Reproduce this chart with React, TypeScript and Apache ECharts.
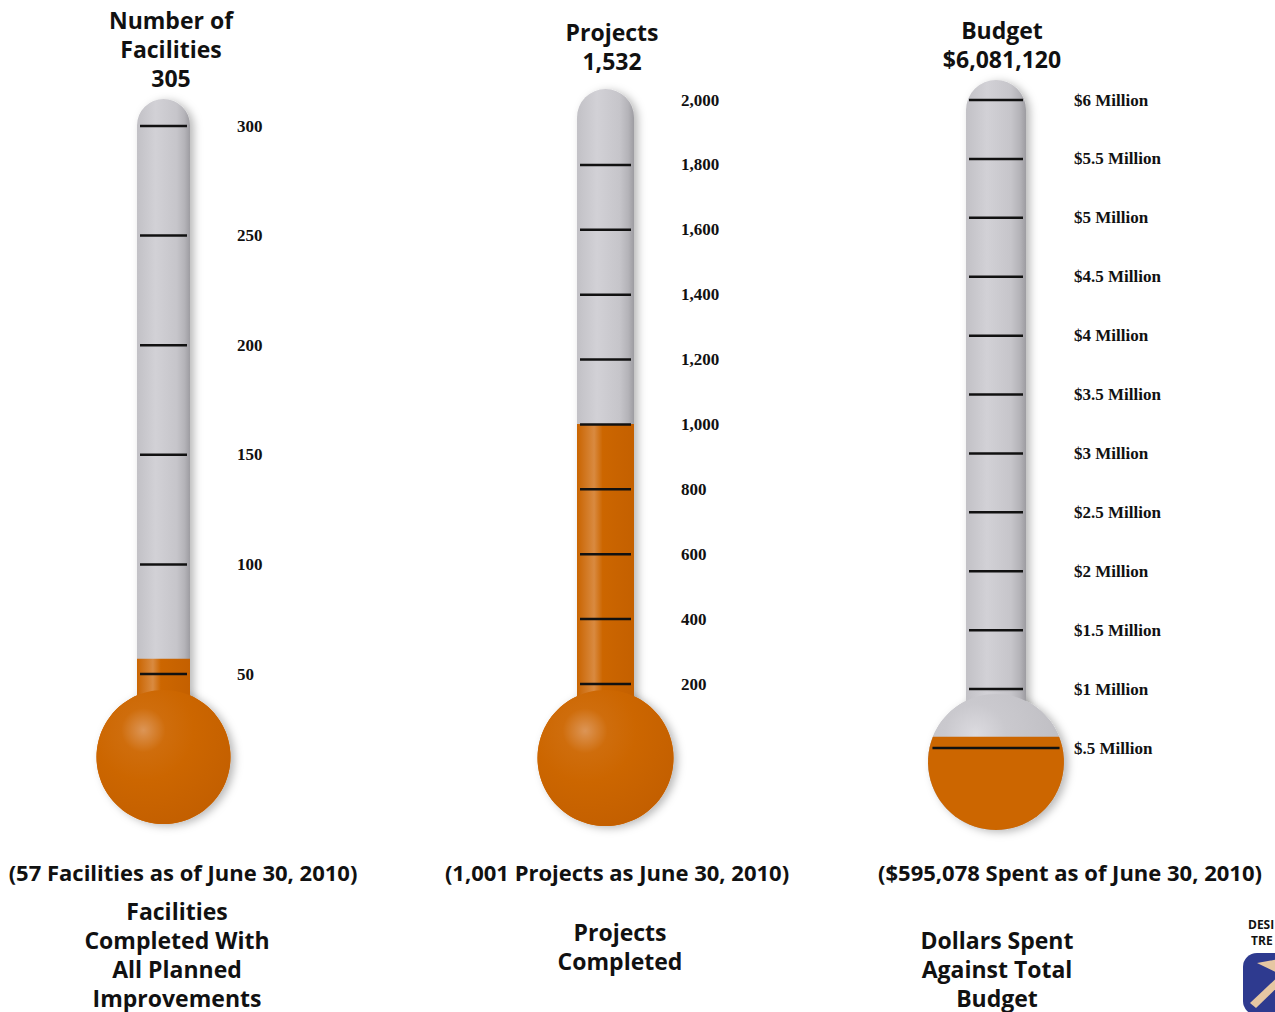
import React, { useEffect, useRef } from 'react';
import * as echarts from 'echarts';

// ---------- data ----------
const facilitiesTicks = [50, 100, 150, 200, 250, 300];
const facilitiesTotal = 305;
const facilitiesCompleted = 57;

const projectLineTicks = [200, 400, 600, 800, 1000, 1200, 1400, 1600, 1800];
const projectsTotal = 1532;
const projectsCompleted = 1001;

const budgetTicks = [0.5, 1, 1.5, 2, 2.5, 3, 3.5, 4, 4.5, 5, 5.5, 6]; // $ millions
const budgetTotal = 6081120; // dollars
const budgetSpent = 595078; // dollars

const fmt = (n: number) => n.toLocaleString('en-US');

// ---------- layout ----------
const thermos = [
  { left: 137, width: 53, top: 126, bottom: 674, tubeTop: 99, cy: 757, r: 67, min: 50, max: 300, interval: 50, lines: facilitiesTicks, value: facilitiesCompleted, labelMargin: 47 },
  { left: 577, width: 57, top: 100, bottom: 684, tubeTop: 89, cy: 758, r: 68, min: 200, max: 2000, interval: 200, lines: projectLineTicks, value: projectsCompleted, labelMargin: 47 },
  { left: 966, width: 60, top: 100, bottom: 748, tubeTop: 80, cy: 762, r: 68, min: 0.5, max: 6, interval: 0.5, lines: budgetTicks, value: budgetSpent / 1e6, labelMargin: 48 },
];

const ORANGE = '#cc6600';
const titleFont = '"Open Sans", Lato, sans-serif';

export default function App() {
  const ref = useRef<HTMLDivElement>(null);
  useEffect(() => {
    if (!ref.current) return;
    const chart = echarts.init(ref.current, undefined, { renderer: 'svg' });

    const grayTube = () =>
      new echarts.graphic.LinearGradient(0, 0, 1, 0, [
        { offset: 0, color: '#c2c1c6' },
        { offset: 0.35, color: '#d2d1d6' },
        { offset: 0.75, color: '#c6c5ca' },
        { offset: 0.9, color: '#b4b3b8' },
        { offset: 1, color: '#9d9ca1' },
      ]);
    const orangeTube = () =>
      new echarts.graphic.LinearGradient(0, 0, 1, 0, [
        { offset: 0, color: '#c96400' },
        { offset: 0.3, color: '#d98a40' },
        { offset: 0.45, color: '#cc6600' },
        { offset: 1, color: '#c46000' },
      ]);
    const orangeBulb = () =>
      new echarts.graphic.RadialGradient(0.35, 0.3, 0.75, [
        { offset: 0, color: '#dc9556' },
        { offset: 0.22, color: '#cf6d0c' },
        { offset: 0.5, color: '#cc6600' },
        { offset: 1, color: '#c35f00' },
      ]);
    const grayBulb = () =>
      new echarts.graphic.RadialGradient(0.35, 0.3, 0.75, [
        { offset: 0, color: '#dcdbe0' },
        { offset: 0.3, color: '#cac9ce' },
        { offset: 1, color: '#bdbcc1' },
      ]);

    const renderItem = (params: any, api: any) => {
      const t = thermos[params.seriesIndex];
      const v = api.value(1);
      const [xl, fy] = api.coord([0, v]);
      const [xr] = api.coord([1, v]);
      const w = xr - xl;
      const cx = (xl + xr) / 2;
      const children: any[] = [];
      const shadow = { shadowBlur: 8, shadowOffsetX: 4, shadowOffsetY: 2, shadowColor: 'rgba(0,0,0,0.28)' };
      children.push({
        type: 'rect',
        shape: { x: xl, y: t.tubeTop, width: w, height: t.cy - t.tubeTop, r: [w / 2, w / 2, 0, 0] },
        style: { fill: grayTube(), ...shadow },
      });
      const bulbTop = t.cy - t.r;
      if (fy < bulbTop) {
        children.push({ type: 'circle', shape: { cx, cy: t.cy, r: t.r }, style: { fill: ORANGE, ...shadow } });
        children.push({ type: 'rect', shape: { x: xl, y: fy, width: w, height: bulbTop + 12 - fy }, style: { fill: orangeTube() } });
        children.push({ type: 'circle', shape: { cx, cy: t.cy, r: t.r }, style: { fill: orangeBulb() } });
      } else {
        children.push({ type: 'circle', shape: { cx, cy: t.cy, r: t.r }, style: { fill: '#c6c5ca', ...shadow } });
        children.push({ type: 'rect', shape: { x: xl, y: bulbTop - 2, width: w, height: 20 }, style: { fill: grayTube() } });
        children.push({ type: 'circle', shape: { cx, cy: t.cy, r: t.r }, style: { fill: grayBulb() } });
        const dy = Math.max(-t.r, Math.min(t.r, fy - t.cy));
        const a0 = Math.asin(dy / t.r);
        const pts: number[][] = [];
        const n = 48;
        for (let i = 0; i <= n; i++) {
          const a = a0 + ((Math.PI - 2 * a0) * i) / n;
          pts.push([cx + t.r * Math.cos(a), t.cy + t.r * Math.sin(a)]);
        }
        children.push({ type: 'polygon', shape: { points: pts }, style: { fill: ORANGE } });
      }
      t.lines.forEach((tv: number) => {
        const y = api.coord([0, tv])[1];
        let half = w / 2;
        if (y > bulbTop + 4) {
          const ch = Math.sqrt(Math.max(0, t.r * t.r - (y - t.cy) * (y - t.cy)));
          if (ch > half) half = ch;
        }
        children.push({
          type: 'line',
          shape: { x1: cx - half + 3, y1: y, x2: cx + half - 3, y2: y },
          style: { stroke: '#111', lineWidth: 2.5 },
        });
      });
      return { type: 'group', children };
    };

    const grids = thermos.map((t) => ({ left: t.left, width: t.width, top: t.top, height: t.bottom - t.top }));
    const xAxes = thermos.map((_, i) => ({ type: 'value', gridIndex: i, min: 0, max: 1, show: false }));
    const labelFmt = [
      (v: number) => String(v),
      (v: number) => fmt(v),
      (v: number) => (v === 0.5 ? '$.5 Million' : '$' + v + ' Million'),
    ];
    const yAxes = thermos.map((t, i) => ({
      type: 'value',
      gridIndex: i,
      position: 'right',
      min: t.min,
      max: t.max,
      interval: t.interval,
      axisLine: { show: false },
      axisTick: { show: false },
      splitLine: { show: false },
      axisLabel: {
        margin: t.labelMargin,
        showMinLabel: true,
        showMaxLabel: true,
        fontFamily: '"Liberation Serif", "Times New Roman", serif',
        fontWeight: 'bold',
        fontSize: 17,
        color: '#111',
        formatter: labelFmt[i],
      },
    }));
    const series = thermos.map((t, i) => ({
      type: 'custom',
      xAxisIndex: i,
      yAxisIndex: i,
      clip: false,
      renderItem,
      data: [[0.5, t.value]],
      z: 2,
    }));

    const txt = (x: number, y: number, text: string, size = 22, lh = 29) => ({
      type: 'text',
      x,
      y,
      style: {
        text,
        fill: '#111',
        font: `bold ${size}px ${titleFont}`,
        textAlign: 'center',
        textVerticalAlign: 'top',
        lineHeight: lh,
      },
    });

    chart.setOption({
      animation: false,
      backgroundColor: '#ffffff',
      grid: grids,
      xAxis: xAxes,
      yAxis: yAxes,
      series,
      graphic: [
        txt(171, 5, 'Number of\nFacilities\n' + facilitiesTotal, 23, 29),
        txt(612, 17, 'Projects\n' + fmt(projectsTotal), 23, 29),
        txt(1002, 15, 'Budget\n$' + fmt(budgetTotal), 23, 29),
        txt(183, 857, '(' + facilitiesCompleted + ' Facilities as of June 30, 2010)', 22),
        txt(617, 857, '(' + fmt(projectsCompleted) + ' Projects as June 30, 2010)', 22),
        txt(1070, 857, '($' + fmt(budgetSpent) + ' Spent as of June 30, 2010)', 22),
        txt(177, 896, 'Facilities\nCompleted With\nAll Planned\nImprovements', 23, 29),
        txt(620, 917, 'Projects\nCompleted', 23, 29),
        txt(997, 925, 'Dollars Spent\nAgainst Total\nBudget', 23, 29),
        {
          type: 'text',
          x: 1248,
          y: 916,
          style: { text: 'DESI\n TRE', fill: '#111', font: `bold 12px ${titleFont}`, lineHeight: 16, textVerticalAlign: 'top' },
        },
        { type: 'rect', shape: { x: 1243, y: 953, width: 60, height: 62, r: 14 }, style: { fill: '#2e3a8f' } },
        {
          type: 'polygon',
          shape: { points: [[1250, 1003], [1256, 1008], [1290, 975], [1285, 970]] },
          style: { fill: '#e6c7a3' },
        },
        {
          type: 'polygon',
          shape: { points: [[1257, 963], [1285, 958], [1282, 975]] },
          style: { fill: '#e6c7a3' },
        },
      ],
    });
    return () => chart.dispose();
  }, []);
  return <div ref={ref} style={{ position: 'absolute', left: 0, top: 0, width: 1275, height: 1012 }} />;
}
